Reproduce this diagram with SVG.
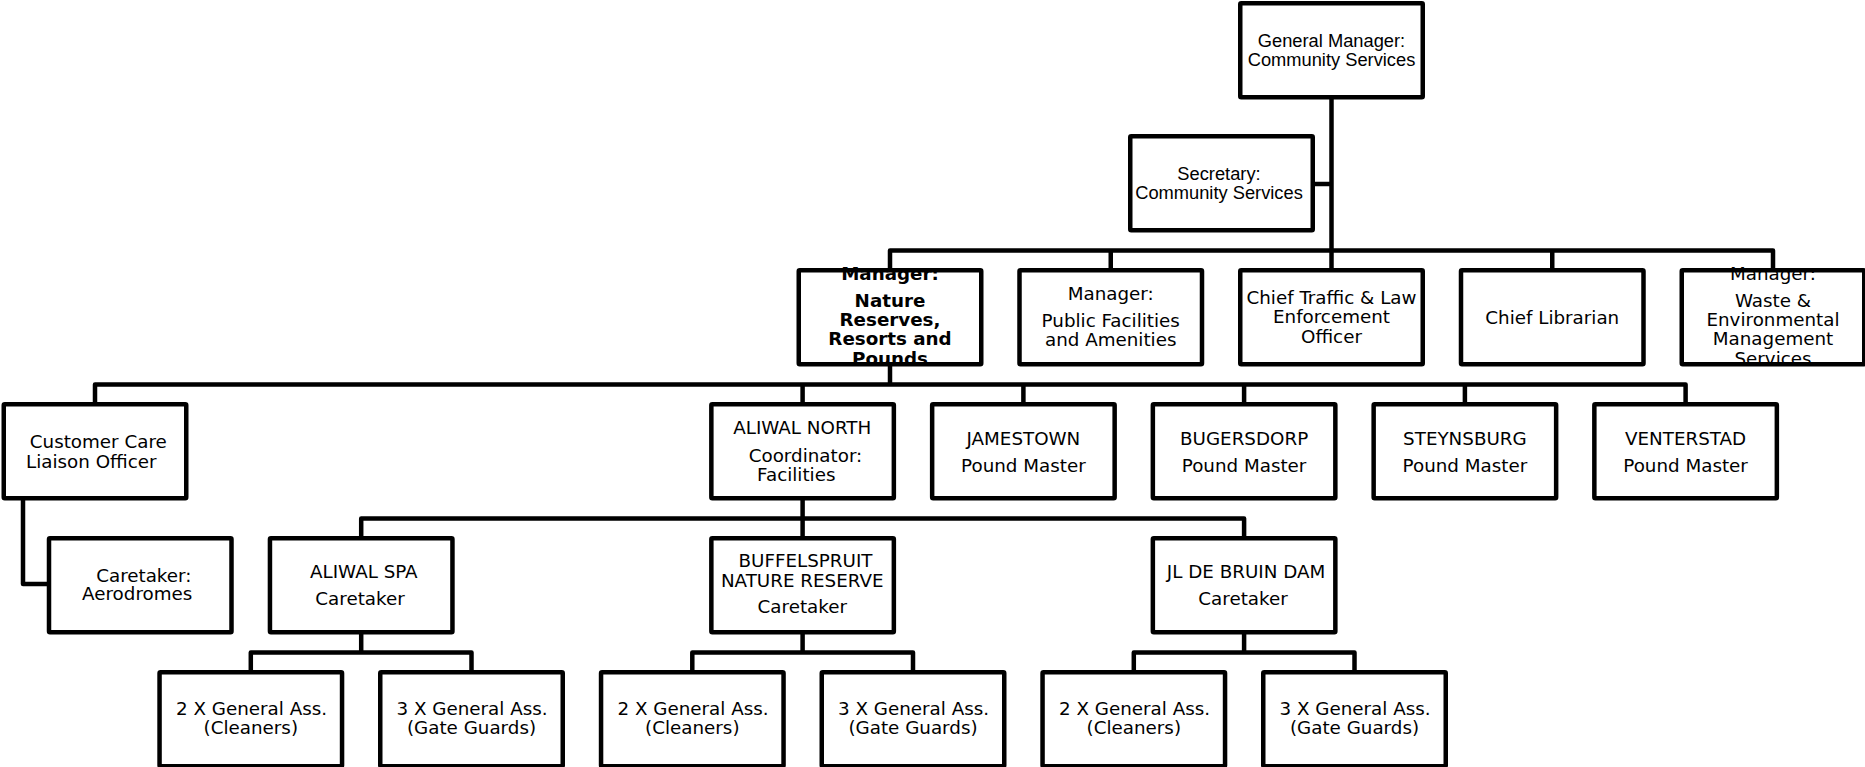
<svg xmlns="http://www.w3.org/2000/svg" width="1865" height="767" viewBox="0 0 1865 767">
<style>
.box{fill:#fff;stroke:#000;stroke-width:4.5;stroke-linejoin:round}
.conn{fill:none;stroke:#000;stroke-width:4.5;stroke-linejoin:round}
.t{font-family:"DejaVu Sans","Noto Sans",sans-serif;font-size:18.3px;text-anchor:middle;fill:#000}
.a{font-family:"Liberation Sans",Arial,sans-serif;font-size:18.3px;text-anchor:middle;fill:#000}
.b{font-weight:bold}
</style>
<defs>
<clipPath id="clipNature"><rect x="796.5" y="265.5" width="187" height="98"/></clipPath>
<clipPath id="clipWaste"><rect x="1679.5" y="265.5" width="187" height="98"/></clipPath>
</defs>
<rect width="1865" height="767" fill="#fff"/>
<g id="connectors">
<path class="conn" d="M1331.5,97 V270.25"/>
<path class="conn" d="M1312.75,184 H1331.5"/>
<path class="conn" d="M890,270.25 V250.5 H1773 V270.25"/>
<path class="conn" d="M1110.75,250.5 V270.25 M1552.25,250.5 V270.25"/>
<path class="conn" d="M890,364.25 V384.5"/>
<path class="conn" d="M95,404.25 V384.5 H1685.6 V404.25"/>
<path class="conn" d="M802.6,384.5 V404.25 M1023.4,384.5 V404.25 M1244.1,384.5 V404.25 M1464.9,384.5 V404.25"/>
<path class="conn" d="M23,498.25 V584 H49"/>
<path class="conn" d="M802.6,498.25 V538.25"/>
<path class="conn" d="M361.2,538.25 V518.5 H1244.1 V538.25"/>
<path class="conn" d="M361.2,632.25 V652.5 M250.8,672.25 V652.5 H471.5 V672.25"/>
<path class="conn" d="M802.6,632.25 V652.5 M692.3,672.25 V652.5 H913 V672.25"/>
<path class="conn" d="M1244.1,632.25 V652.5 M1133.8,672.25 V652.5 H1354.5 V672.25"/>
</g>
<g id="gm">
<rect class="box" x="1240.25" y="3.25" width="182.5" height="94" rx="1"/>
<text class="a" x="1331.5" y="46.7">General Manager:</text>
<text class="a" x="1331.5" y="65.7">Community Services</text>
</g>
<g id="secretary">
<rect class="box" x="1130.25" y="136.25" width="182.5" height="94" rx="1"/>
<text class="a" x="1219" y="180">Secretary:</text>
<text class="a" x="1219" y="199">Community Services</text>
</g>
<g id="mgr-nature">
<rect class="box" x="798.75" y="270.25" width="182.5" height="94" rx="1"/>
<g clip-path="url(#clipNature)">
<text class="t b" x="890" y="280.3">Manager:</text>
<text class="t b" x="890" y="307">Nature</text>
<text class="t b" x="890" y="326.2">Reserves,</text>
<text class="t b" x="890" y="345.4">Resorts and</text>
<text class="t b" x="890" y="364.6">Pounds</text>
</g>
</g>
<g id="mgr-public">
<rect class="box" x="1019.5" y="270.25" width="182.5" height="94" rx="1"/>
<text class="t" x="1110.75" y="299.5">Manager:</text>
<text class="t" x="1110.75" y="326.5">Public Facilities</text>
<text class="t" x="1110.75" y="346">and Amenities</text>
</g>
<g id="chief-traffic">
<rect class="box" x="1240.25" y="270.25" width="182.5" height="94" rx="1"/>
<text class="t" x="1331.5" y="303.7">Chief Traffic &amp; Law</text>
<text class="t" x="1331.5" y="323.3">Enforcement</text>
<text class="t" x="1331.5" y="342.9">Officer</text>
</g>
<g id="chief-librarian">
<rect class="box" x="1461" y="270.25" width="182.5" height="94" rx="1"/>
<text class="t" x="1552.25" y="323.5">Chief Librarian</text>
</g>
<g id="mgr-waste">
<rect class="box" x="1681.75" y="270.25" width="182.5" height="94" rx="1"/>
<g clip-path="url(#clipWaste)">
<text class="t" x="1773" y="280.3">Manager:</text>
<text class="t" x="1773" y="307">Waste &amp;</text>
<text class="t" x="1773" y="326.2">Environmental</text>
<text class="t" x="1773" y="345.4">Management</text>
<text class="t" x="1773" y="364.6">Services</text>
</g>
</g>
<g id="customer-care">
<rect class="box" x="3.75" y="404.25" width="182.5" height="94" rx="1"/>
<text class="t" x="98.3" y="448.3">Customer Care</text>
<text class="t" x="91.3" y="467.7">Liaison Officer</text>
</g>
<g id="aliwal-north">
<rect class="box" x="711.35" y="404.25" width="182.5" height="94" rx="1"/>
<text class="t" x="802.2" y="434.3">ALIWAL NORTH</text>
<text class="t" x="805.5" y="461.7">Coordinator:</text>
<text class="t" x="796.3" y="481">Facilities</text>
</g>
<g id="jamestown">
<rect class="box" x="932.15" y="404.25" width="182.5" height="94" rx="1"/>
<text class="t" x="1023.4" y="445">JAMESTOWN</text>
<text class="t" x="1023.4" y="471.7">Pound Master</text>
</g>
<g id="bugersdorp">
<rect class="box" x="1152.85" y="404.25" width="182.5" height="94" rx="1"/>
<text class="t" x="1244.1" y="445">BUGERSDORP</text>
<text class="t" x="1244.1" y="471.7">Pound Master</text>
</g>
<g id="steynsburg">
<rect class="box" x="1373.65" y="404.25" width="182.5" height="94" rx="1"/>
<text class="t" x="1464.9" y="445">STEYNSBURG</text>
<text class="t" x="1464.9" y="471.7">Pound Master</text>
</g>
<g id="venterstad">
<rect class="box" x="1594.35" y="404.25" width="182.5" height="94" rx="1"/>
<text class="t" x="1685.6" y="445">VENTERSTAD</text>
<text class="t" x="1685.6" y="471.7">Pound Master</text>
</g>
<g id="caretaker-aerodromes">
<rect class="box" x="49" y="538.25" width="182.5" height="94" rx="1"/>
<text class="t" x="143.8" y="581.7">Caretaker:</text>
<text class="t" x="137.2" y="600">Aerodromes</text>
</g>
<g id="aliwal-spa">
<rect class="box" x="269.95" y="538.25" width="182.5" height="94" rx="1"/>
<text class="t" x="363.8" y="578.3">ALIWAL SPA</text>
<text class="t" x="360" y="604.7">Caretaker</text>
</g>
<g id="buffelspruit">
<rect class="box" x="711.35" y="538.25" width="182.5" height="94" rx="1"/>
<text class="t" x="805.5" y="566.7">BUFFELSPRUIT</text>
<text class="t" x="802.2" y="587.3">NATURE RESERVE</text>
<text class="t" x="802.3" y="613.3">Caretaker</text>
</g>
<g id="jl-de-bruin">
<rect class="box" x="1152.85" y="538.25" width="182.5" height="94" rx="1"/>
<text class="t" x="1246" y="578.3">JL DE BRUIN DAM</text>
<text class="t" x="1243" y="604.7">Caretaker</text>
</g>
<g id="spa-cleaners">
<rect class="box" x="159.55" y="672.25" width="182.5" height="94" rx="1"/>
<text class="t" x="251.5" y="715">2 X General Ass.</text>
<text class="t" x="250.8" y="734">(Cleaners)</text>
</g>
<g id="spa-guards">
<rect class="box" x="380.25" y="672.25" width="182.5" height="94" rx="1"/>
<text class="t" x="472" y="715">3 X General Ass.</text>
<text class="t" x="471.5" y="734">(Gate Guards)</text>
</g>
<g id="buff-cleaners">
<rect class="box" x="601.05" y="672.25" width="182.5" height="94" rx="1"/>
<text class="t" x="693" y="715">2 X General Ass.</text>
<text class="t" x="692.3" y="734">(Cleaners)</text>
</g>
<g id="buff-guards">
<rect class="box" x="821.75" y="672.25" width="182.5" height="94" rx="1"/>
<text class="t" x="913.5" y="715">3 X General Ass.</text>
<text class="t" x="913" y="734">(Gate Guards)</text>
</g>
<g id="jl-cleaners">
<rect class="box" x="1042.55" y="672.25" width="182.5" height="94" rx="1"/>
<text class="t" x="1134.5" y="715">2 X General Ass.</text>
<text class="t" x="1133.8" y="734">(Cleaners)</text>
</g>
<g id="jl-guards">
<rect class="box" x="1263.25" y="672.25" width="182.5" height="94" rx="1"/>
<text class="t" x="1355" y="715">3 X General Ass.</text>
<text class="t" x="1354.5" y="734">(Gate Guards)</text>
</g>
</svg>
